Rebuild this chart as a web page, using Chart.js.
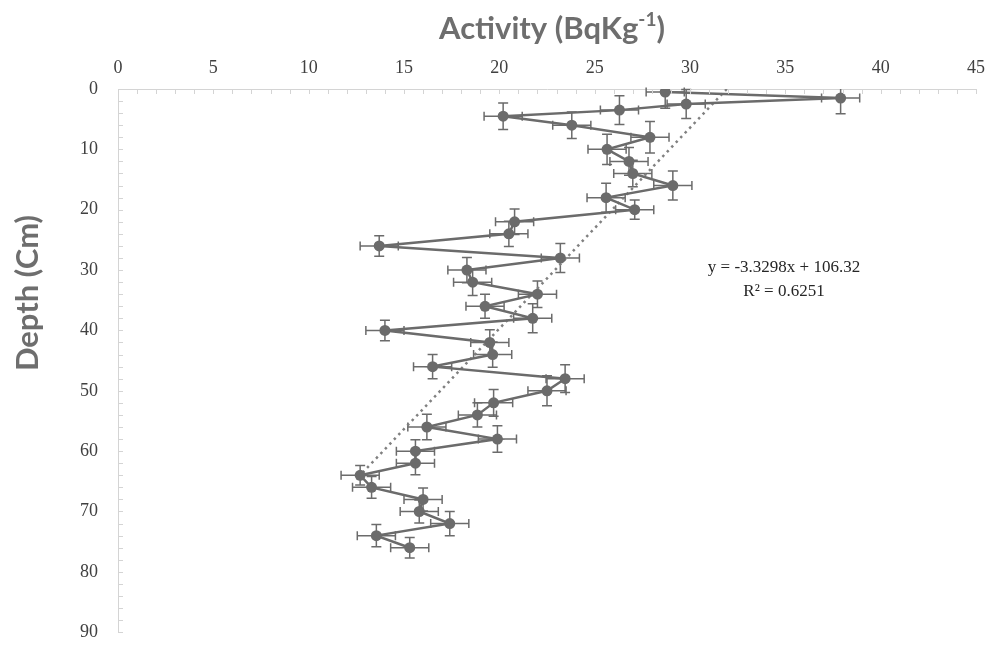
<!DOCTYPE html>
<html>
<head>
<meta charset="utf-8">
<script src="https://cdn.jsdelivr.net/npm/chart.js@4.4.1/dist/chart.umd.min.js"></script>
<style>
  html, body { margin: 0; padding: 0; background: #fff; }
  #wrap { width: 995px; height: 663px; }
</style>
</head>
<body>
<div id="wrap"><canvas id="depthChart" width="995" height="663"></canvas></div>
<script>
// depth (cm) and activity (Bq/kg)
const depths = [0.5, 1.5, 2.5, 3.5, 4.5, 6, 8, 10, 12, 14, 16, 18, 20, 22, 24, 26, 28, 30, 32, 34,
                36, 38, 40, 42, 44, 46, 48, 50, 52, 54, 56, 58, 60, 62, 64, 66, 68, 70, 72, 74, 76];
const activity = [28.7, 37.9, 29.8, 26.3, 20.2, 23.8, 27.9, 25.65, 26.8, 27.0, 29.1, 25.6, 27.1, 20.8, 20.5, 13.7, 23.2, 18.3, 18.6, 22.0,
                  19.25, 21.75, 14.0, 19.5, 19.65, 16.5, 23.45, 22.5, 19.7, 18.85, 16.2, 19.9, 15.6, 15.6, 12.7, 13.3, 16.0, 15.8, 17.4, 13.55, 15.3];
const activityErr = [1, 1, 1, 1, 1, 1, 1, 1, 1, 1, 1, 1, 1, 1, 1, 1, 1, 1, 1, 1,
                     1, 1, 1, 1, 1, 1, 1, 1, 1, 1, 1, 1, 1, 1, 1, 1, 1, 1, 1, 1, 1];
const depthErr = [2.7, 2.6, 2.4, 2.4, 2.2, 2.2, 2.6, 2.5, 2.3, 2.2, 2.4, 2.4, 1.6, 2.1, 2.1, 1.7, 2.4, 2.1, 2.2, 2.2,
                  2.0, 2.4, 1.7, 2.1, 2.1, 2.0, 2.3, 2.5, 2.2, 2.0, 2.1, 2.2, 1.9, 1.9, 1.6, 1.8, 1.9, 1.9, 2.0, 1.85, 1.7];

// linear trend (Excel) drawn across the data range
const trendActivity = [31.93, 12.7];
const trendDepth = [0, 64];
const trendText = ['y = -3.3298x + 106.32', 'R\u00b2 = 0.6251'];

const xTicks = [0, 5, 10, 15, 20, 25, 30, 35, 40, 45];
const yTicks = [0, 10, 20, 30, 40, 50, 60, 70, 80, 90];

const markColor = '#6b6b6b';
const axisColor = '#d4d4d4';
const titleColor = '#6e6e6e';
const serif = "'Liberation Serif', serif";

Chart.defaults.font.family = serif;

const decorPlugin = {
    id: 'decor',
    beforeDatasetsDraw(chart) {
        const ctx = chart.ctx;
        const xs = chart.scales.x, ys = chart.scales.y;
        ctx.save();
        ctx.strokeStyle = markColor;
        ctx.lineWidth = 1.5;
        for (let i = 0; i < depths.length; i++) {
            const px = xs.getPixelForValue(activity[i]);
            const py = ys.getPixelForValue(depths[i]);
            const x1 = xs.getPixelForValue(activity[i] - activityErr[i]);
            const x2 = xs.getPixelForValue(activity[i] + activityErr[i]);
            const y1 = Math.max(ys.getPixelForValue(depths[i] - depthErr[i]), chart.chartArea.top);
            const y2 = ys.getPixelForValue(depths[i] + depthErr[i]);
            ctx.beginPath();
            ctx.moveTo(x1, py); ctx.lineTo(x2, py);
            ctx.moveTo(x1, py - 4.5); ctx.lineTo(x1, py + 4.5);
            ctx.moveTo(x2, py - 4.5); ctx.lineTo(x2, py + 4.5);
            ctx.moveTo(px, y1); ctx.lineTo(px, y2);
            if (y1 > chart.chartArea.top) { ctx.moveTo(px - 5, y1); ctx.lineTo(px + 5, y1); }
            ctx.moveTo(px - 5, y2); ctx.lineTo(px + 5, y2);
            ctx.stroke();
        }
        ctx.restore();
    },
    afterDraw(chart) {
        const ctx = chart.ctx;
        const xs = chart.scales.x, ys = chart.scales.y;
        const area = chart.chartArea;
        ctx.save();

        // small tick marks inside the plot
        ctx.strokeStyle = axisColor;
        ctx.lineWidth = 1;
        ctx.beginPath();
        for (let v = 0; v <= 45; v++) {
            const p = Math.round(xs.getPixelForValue(v)) + 0.5;
            ctx.moveTo(p, area.top); ctx.lineTo(p, area.top + 5);
        }
        for (let v = 0; v <= 90; v += 2) {
            const p = Math.round(ys.getPixelForValue(v)) + 0.5;
            ctx.moveTo(area.left, p); ctx.lineTo(area.left + 5, p);
        }
        ctx.stroke();

        // axis titles
        ctx.fillStyle = titleColor;
        ctx.textBaseline = 'alphabetic';
        const big = 'bold 31px Lato';
        const small = 'bold 19px Lato';
        const parts = [['Activity (BqKg', big, 0], ['-1', small, -13], [')', big, 0]];
        let total = 0;
        parts.forEach(p => { ctx.font = p[1]; total += ctx.measureText(p[0]).width; });
        let tx = 552 - total / 2;
        parts.forEach(p => {
            ctx.font = p[1];
            ctx.textAlign = 'left';
            ctx.fillText(p[0], tx, 39 + p[2]);
            tx += ctx.measureText(p[0]).width;
        });

        ctx.save();
        ctx.translate(38, 293);
        ctx.rotate(-Math.PI / 2);
        ctx.font = big;
        ctx.textAlign = 'center';
        ctx.fillText('Depth (Cm)', 0, 0);
        ctx.restore();

        // trend equation
        ctx.fillStyle = '#262626';
        ctx.font = '17px ' + serif;
        ctx.textAlign = 'center';
        ctx.textBaseline = 'middle';
        ctx.fillText(trendText[0], 784, 268);
        ctx.fillText(trendText[1], 784, 292);
        ctx.restore();
    }
};

function drawChart() {
    const ctx = document.getElementById('depthChart').getContext('2d');
    const points = depths.map((d, i) => ({ x: activity[i], y: d }));
    const trend = trendDepth.map((d, i) => ({ x: trendActivity[i], y: d }));

    window.myChart = new Chart(ctx, {
        type: 'scatter',
        data: {
            datasets: [
                {
                    label: 'Activity',
                    data: points,
                    showLine: true,
                    borderColor: markColor,
                    borderWidth: 2.5,
                    backgroundColor: markColor,
                    pointRadius: 5.5,
                    pointBackgroundColor: markColor,
                    pointBorderWidth: 0,
                    order: 1
                },
                {
                    label: 'Linear trend',
                    data: trend,
                    showLine: true,
                    borderColor: '#808080',
                    borderWidth: 2.5,
                    borderDash: [2.5, 4],
                    pointRadius: 0,
                    order: 2
                }
            ]
        },
        options: {
            responsive: false,
            animation: false,
            layout: { padding: { top: 0, left: 0, right: 12, bottom: 7 } },
            plugins: {
                legend: { display: false },
                tooltip: { enabled: false }
            },
            scales: {
                x: {
                    type: 'linear',
                    position: 'top',
                    min: 0,
                    max: 45,
                    afterFit: s => { s.height = 89; },
                    afterBuildTicks: s => { s.ticks = xTicks.map(v => ({ value: v })); },
                    grid: { drawOnChartArea: false, drawTicks: false },
                    border: { display: true, color: axisColor, width: 1 },
                    ticks: {
                        padding: 10,
                        color: '#404040',
                        font: { family: serif, size: 18 }
                    }
                },
                y: {
                    type: 'linear',
                    reverse: true,
                    min: 0,
                    max: 90,
                    afterFit: s => { s.width = 118; },
                    afterBuildTicks: s => { s.ticks = yTicks.map(v => ({ value: v })); },
                    grid: { drawOnChartArea: false, drawTicks: false },
                    border: { display: true, color: axisColor, width: 1 },
                    ticks: {
                        padding: 20,
                        color: '#404040',
                        font: { family: serif, size: 18 }
                    }
                }
            }
        },
        plugins: [decorPlugin]
    });
}

document.addEventListener("DOMContentLoaded", drawChart);
</script>
</body>
</html>
